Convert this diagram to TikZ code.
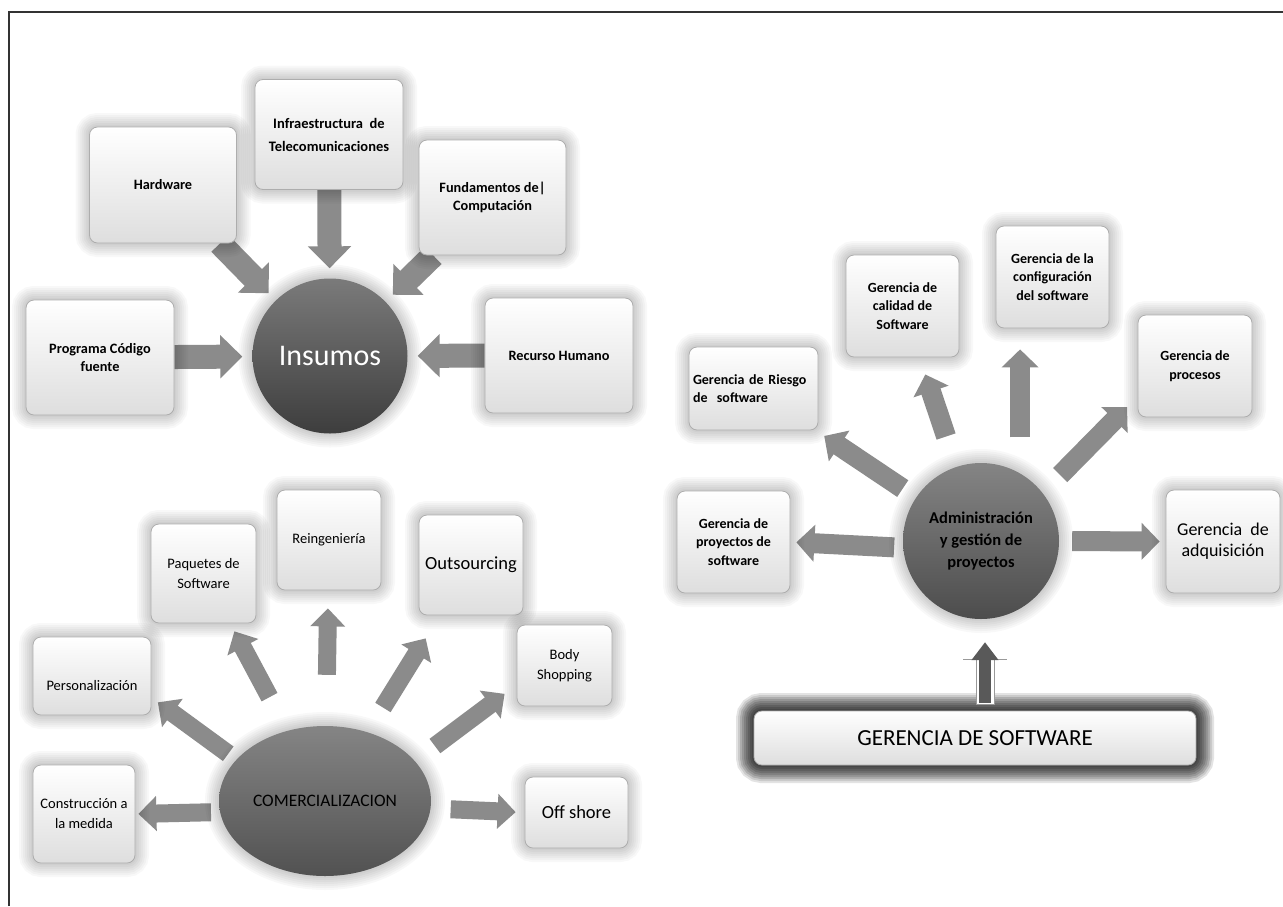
\documentclass[tikz,border=0pt]{standalone}
\usepackage{fontspec}
\setmainfont{Carlito}
\usetikzlibrary{arrows.meta,calc,backgrounds,shapes.geometric}
\definecolor{arrgray}{HTML}{8B8B8B}
\definecolor{framegray}{HTML}{333333}
\tikzset{
  glow/.style={preaction={draw=black,opacity=0.026,line width=28pt},
               preaction={draw=black,opacity=0.026,line width=24pt},
               preaction={draw=black,opacity=0.026,line width=20pt},
               preaction={draw=black,opacity=0.026,line width=16pt},
               preaction={draw=black,opacity=0.026,line width=12pt},
               preaction={draw=black,opacity=0.026,line width=8pt},
               preaction={draw=black,opacity=0.026,line width=4pt}},
  darkglow/.style={preaction={draw=black,opacity=0.11,line width=36pt},
                   preaction={draw=black,opacity=0.11,line width=32pt},
                   preaction={draw=black,opacity=0.11,line width=28pt},
                   preaction={draw=black,opacity=0.11,line width=24pt},
                   preaction={draw=black,opacity=0.11,line width=20pt},
                   preaction={draw=black,opacity=0.11,line width=16pt},
                   preaction={draw=black,opacity=0.11,line width=12pt},
                   preaction={draw=black,opacity=0.11,line width=8pt},
                   preaction={draw=black,opacity=0.11,line width=4pt}},
  box/.style={rectangle, rounded corners=8pt, draw=black!32, line width=0.8pt,
              top color=white, bottom color=black!13, align=center, inner sep=4pt, glow},
  hub/.style={circle, inner sep=0pt, align=center, glow},
  sz/.style 2 args={minimum width=#1pt, minimum height=#2pt},
  fI/.style={font=\fontsize{14.3}{18}\selectfont\bfseries},
  fC/.style={font=\fontsize{14.5}{20}\selectfont},
  fCL/.style={font=\fontsize{18.5}{22}\selectfont},
  fR/.style={font=\fontsize{14}{18.5}\selectfont\bfseries},
  arrI/.style={draw=arrgray, line width=24pt, -{Triangle[width=42pt,length=22pt]}},
  arrC/.style={draw=arrgray, line width=18pt, -{Triangle[width=34pt,length=18pt]}},
  arrR/.style={draw=arrgray, line width=20pt, -{Triangle[width=36pt,length=18pt]}},
  uparr/.style={draw=black!65, line width=12pt, -{Triangle[width=26pt,length=18pt]}}
}
\begin{document}
\begin{tikzpicture}[x=1pt,y=-1pt]
\useasboundingbox (0,0) rectangle (1283,906);

% ---------- Insumos ----------
\node[hub, minimum size=155pt, top color=black!52, bottom color=black!76, text=white,
      font=\fontsize{30}{32}\selectfont] (ins) at (330,356) {Insumos};
\node[box, sz={147}{116}, fI] (hw) at (163,185) {Hardware};
\node[box, sz={148}{110}, font=\fontsize{14.5}{23}\selectfont\bfseries] (inf) at (329,134.5) {Infraestructura~~de\\Telecomunicaciones};
\node[box, sz={147}{115}, fI] (fun) at (492.5,197.5) {Fundamentos de|\\Computación};
\node[box, sz={148}{115}, fI] (prog) at (100,357.5) {Programa Código\\fuente};
\node[box, sz={148}{115}, fI] (rec) at (559,355.5) {Recurso Humano};

% ---------- Comercializacion ----------
\node[hub, ellipse, minimum width=212pt, minimum height=150pt, top color=black!48, bottom color=black!68,
      font=\fontsize{17.5}{20}\selectfont] (com) at (325,801) {COMERCIALIZACION};
\node[box, sz={102}{98}, fC] (cons) at (84,814) {Construcción a\\la medida};
\node[box, sz={118}{78}, fC] (pers) at (92,676) {\raisebox{-14pt}[0pt][0pt]{Personalización}};
\node[box, sz={105}{99}, fC] (paq) at (203.5,573.5) {Paquetes de\\Software};
\node[box, sz={104}{100}, fC] (rein) at (329,540) {Reingeniería};
\node[box, sz={104}{100}, fCL] (outs) at (471,565) {Outsourcing};
\node[box, sz={95}{81}, fC] (body) at (564.5,665.5) {Body\\Shopping};
\node[box, sz={103}{71}, fCL] (off) at (576.5,812.5) {Off shore};

% ---------- Gerencia de software ----------
\node[hub, minimum size=156pt, top color=black!48, bottom color=black!70,
      font=\fontsize{16.5}{22}\selectfont\bfseries] (adm) at (981,541) {Administración\\y gestión de\\proyectos};
\node[box, text width=121pt, align=left, minimum height=83pt, fR] (ries) at (753.5,388.5) {Gerencia de Riesgo\\de~~software};
\node[box, sz={113}{102}, fR] (cal) at (902.5,306) {Gerencia de\\calidad de\\Software};
\node[box, sz={113}{102}, fR] (conf) at (1052.5,277) {Gerencia de la\\configuración\\del software};
\node[box, sz={114}{102}, fR] (proc) at (1195,366) {Gerencia de\\procesos};
\node[box, sz={113}{102}, fR] (proy) at (733.5,542) {Gerencia de\\proyectos de\\software};
\node[box, sz={114}{103}, font=\fontsize{18}{21}\selectfont] (adq) at (1223,541.5) {Gerencia~~de\\adquisición};
\node[box, sz={442}{54}, darkglow, font=\fontsize{23}{26}\selectfont] (gs) at (975,738) {GERENCIA DE SOFTWARE};

% up arrow from GERENCIA DE SOFTWARE
\coordinate (upb) at ($(gs.north -| adm)+(4,0)$);
\draw[black!40, line width=0.7pt, fill=white] ($(upb)+(-9,-6)$) rectangle ($(upb)+(9,-52)$);
\draw[black!40, line width=0.7pt] ($(upb)+(-22,-51)$) -- ($(upb)+(22,-51)$);
\draw[uparr, shorten <=8pt, shorten >=23pt] (upb) -- (upb |- adm.south);

% ---------- connectors (behind the shapes) ----------
\begin{scope}[on background layer]
\fill[white] (0,0) rectangle (1283,906);
% Insumos
\draw[arrI, shorten >=10pt] (prog) -- (ins);
\draw[arrI, shorten >=10pt] (rec) -- (ins);
\draw[arrI, shorten >=10pt] (inf) -- (ins);
\draw[arrI, shorten >=10pt] (hw) -- (ins);
\draw[arrI, shorten >=10pt] (fun) -- (ins);
% Comercializacion
\draw[arrC, shorten <=9pt, shorten >=3pt] (com.186) -- (cons.east);
\draw[arrC, shorten <=10pt, shorten >=8pt] (com.155) -- (pers.-20);
\draw[arrC, shorten <=38pt, shorten >=9pt] (com) -- (paq);
\draw[arrC, shorten <=51pt, shorten >=18pt] (com) -- (rein);
\draw[arrC, shorten <=29pt, shorten >=27pt] (com) -- (outs);
\draw[arrC, shorten <=25pt, shorten >=15pt] (com.24) -- (body.202);
\draw[arrC, shorten <=20pt, shorten >=9pt] (com.-4) -- (off.west);
% Gerencia
\draw[arrR, shorten <=16pt, shorten >=10pt] (adm) -- (ries);
\draw[arrR, shorten <=32pt, shorten >=18pt] (adm) -- (cal);
\draw[arrR, shorten <=36pt, shorten >=21pt] (adm.60) -- (adm.60 |- conf.south);
\draw[arrR, shorten <=25pt, shorten >=15pt] (adm.38) -- (proc.208);
\draw[arrR, shorten <=9pt, shorten >=6pt] (adm.185) -- (proy.east);
\draw[arrR, shorten <=13pt, shorten >=6pt] (adm.east) -- (adq.west);
\end{scope}

% frame
\draw[framegray, line width=2pt] (9,906) -- (9,12) -- (1283,12);
\end{tikzpicture}
\end{document}
